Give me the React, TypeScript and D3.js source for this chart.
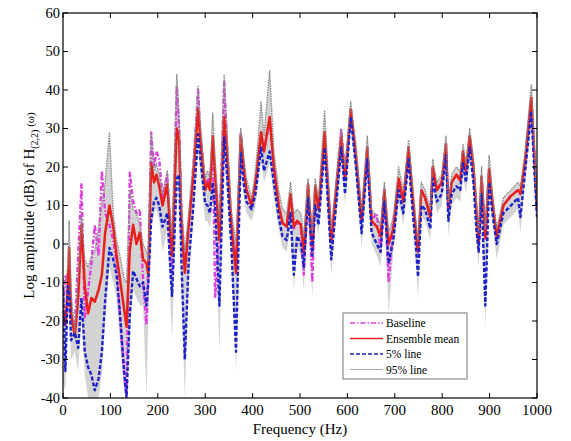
import React from 'react';
import * as d3 from 'd3';

// frequency grid (Hz) shared by all series
const freq = [
  0, 5, 10, 13, 17, 25, 32, 39, 46, 53,
  60, 67, 75, 82, 89, 98, 106, 113, 120, 129,
  134, 141, 148, 155, 162, 169, 176, 180, 186, 192,
  197, 203, 210, 220, 230, 240, 245, 250, 257, 265,
  275, 285, 290, 300, 305, 310, 316, 321, 330, 340,
  346, 355, 365, 375, 381, 387, 398, 406, 418, 424,
  436, 445, 455, 463, 472, 480, 487, 494, 502, 508,
  517, 526, 532, 539, 552, 566, 587, 595, 607, 618,
  630, 642, 651, 662, 670, 678, 687, 697, 708, 718,
  729, 738, 744, 749, 756, 764, 775, 780, 789, 799,
  808, 813, 820, 830, 838, 844, 850, 858, 866, 872,
  877, 883, 891, 899, 906, 915, 929, 945, 960, 965,
  975, 988, 995, 1000,
];

const meanDb = [
  -17, -21, -12, -1, -18, -24, -14, 5, -11, -18,
  -14, -15, -12, -8, 3, 10, 4.5, -3, -9, -17,
  -21.5, -1.5, 5, 0, 3, -4, -5, -8, 21, 16,
  18, 15, 10, 15.5, -3, 30, 27, 5, -7.5, 4.5,
  18, 35, 27, 14, 16, 14, 28, 18, 1, 33,
  24, 5, -7.5, 28, 20, 14, 10, 16, 29, 24,
  33, 20, 10, 5.5, 4.5, 13, 4.5, 6, 5, -2,
  15.5, -0.5, 15, 9, 29, 1, 28, 17, 35, 23,
  6, 25, 6, 4.5, 2, 14, 0, 4, 17, 11,
  25, 12, 4, -2, 14, 12, 7, 20, 14, 16,
  26, 9, 16, 18, 16.5, 24, 19, 28, 20, 9,
  0, 17.5, 1.5, 19.5, 11, 2, 10, 12.5, 14, 13,
  22, 38, 22, 9,
];

const baselineDb = [
  -16, -8, -10, -4, -20, -22, -3, 15.5, -19, -12,
  -5, 5, -3, 19, 8, 5, 1, -5, -18, -34,
  -39, 18.5, 11, 8, 9, -10, -21, -6, 29, 20,
  24, 22, 12, 18, -7.5, 41, 30, 8, -6, 5,
  20, 40, 28, 15, 17, 16, 27, -14, 3, 42,
  26, 6, -6, 29, 21, 14, 10, 16, 29, 24,
  32, 20, 10, 5.5, 4.5, 13, 4, 6, 4, -8,
  15, -10, 14, 9, 29, 0, 30, 17, 35, 23,
  6, 25, 6, 8, -2, 14, -10, 6, 17, 11,
  25, 12, 4, -2, 14, 12, 7, 20, 14, 16,
  26, 9, 16, 18, 16.5, 24, 19, 28, 20, 9,
  0, 17.5, 1.5, 19.5, 11, 2, 10, 12.5, 14, 13,
  22, 38, 22, 9,
];

const p5Db = [
  -11, -33, -11, -12, -25, -23, -27, -14, -28, -32,
  -34, -38, -35, -28, -14.5, -1, -4, -8, -18, -33,
  -40, -18, -7, -9, -11, -10, -16, -10, 6, 11,
  12, 10, 4.5, 8, -13.5, 17, 18, -5, -30, -5,
  10, 28.5, 22, 10.5, 10, 8, 16, 9.6, -16, 27.7,
  18, 0, -28, 24, 16, 11, 9, 13, 25, 19,
  24, 15.7, 7, 2, 1, 8, -8, 2, 0, -6,
  12, -3, 10, 5, 25, -4, 25, 13, 33, 20,
  2.8, 22, 3, 0, -2, 11, -5, 1, 14, 8,
  22, 8, 0, -8.5, 10, 9, 4, 17, 11, 13,
  23, 6, 13, 15, 14, 21, 16, 25, 16, 4,
  -2, 13, -16, 16, 8, 0, 8, 10, 12, 7,
  19, 34.5, 18, 7,
];

const p95Db = [
  -9, -10, -6, 6, -12, -23, -8, 7, -4, -6,
  -3, -2, 4.5, 10, 16, 29, 8, 1, -3, -9,
  -10, 14, 9, 8, 5, 0, -2, -4, 29, 19,
  21, 18, 13, 19, 2, 44, 33, 10, -2, 8,
  22, 41, 31, 17, 19, 17, 34, 22, 6, 44,
  29, 9, 0, 30, 23, 17, 12, 19, 37, 28,
  45, 24, 14, 9, 8, 16, 8, 9, 8, 2,
  17, 3, 17, 12, 34.5, 4, 30, 20, 37, 26,
  9, 28, 9, 7, 5, 16, 3, 7, 20, 14,
  27, 15, 7, 1, 16, 14, 9, 22, 16, 18,
  28, 11, 18, 20, 19, 26, 21, 30, 22, 11,
  3, 20, 4, 23, 13, 4, 12, 14, 16, 15,
  24, 41.5, 24, 11,
];

// lower edge of the grey spread of the ensemble
const bandLowDb = [
  -36, -38, -20, -16, -30, -28, -33, -20, -34, -40,
  -40, -40, -40, -34, -20, -6, -10, -14, -25, -38,
  -40, -25, -12, -14, -16, -16, -40, -20, 4, 8,
  9, 6, -2, 4, -25, 14, 14, -12, -40, -10,
  6, 25, 18, 6, 6, 4, 12, 5, -28, 24,
  14, -4, -33, 20, 13, 8, 6, 10, 22, 16,
  21, 12, 4, -1, -2, 4, -12, -1, -3, -12,
  9, -14, 7, 2, 22, -8, 22, 10, 31, 17,
  -1, 19, 0, -3, -6, 8, -18, -2, 11, 5,
  19, 5, -3, -14, 7, 6, 1, 14, 8, 10,
  20, 2, 10, 12, 11, 18, 13, 22, 13, 0,
  -6, 10, -22, 13, 5, -4, 5, 7, 9, 3,
  16, 31, 15, 4,
];

const xTicks = [0, 100, 200, 300, 400, 500, 600, 700, 800, 900, 1000];
const yTicks = [-40, -30, -20, -10, 0, 10, 20, 30, 40, 50, 60];
const legendLabels = ['Baseline', 'Ensemble mean', '5% line', '95% line'];

const FONT = 'Liberation Serif';
const left = 63, right = 537, top = 13, bottom = 398;

export default function App() {
  const x = d3.scaleLinear().domain([0, 1000]).range([left, right]);
  const y = d3.scaleLinear().domain([-40, 60]).range([bottom, top]);

  const band = d3.area<number>()
    .x((d, i) => x(freq[i]))
    .y0(d => y(d))
    .y1((d, i) => y(p95Db[i]));

  const mkLine = (vals: number[]) =>
    d3.line<number>().x((d, i) => x(freq[i])).y(d => y(d))(vals) || '';

  const series = [
    { vals: baselineDb, color: '#e03ce0', width: 2.4, dash: '5,2,1.5,2' },
    { vals: meanDb, color: '#e8201c', width: 2.5, dash: undefined },
    { vals: p5Db, color: '#1c22c8', width: 2.4, dash: '4,2' },
    { vals: p95Db, color: '#8a8a8a', width: 1.4, dash: '1.5,1' },
  ];

  return (
    <svg
      xmlns="http://www.w3.org/2000/svg"
      width="571"
      height="441"
      viewBox="0 0 571 441"
      style={{ position: 'absolute', left: 0, top: 0, background: '#fff' }}
    >
      <defs>
        <clipPath id="plotclip">
          <rect x={left} y={top} width={right - left} height={bottom - top} />
        </clipPath>
      </defs>

      <g clipPath="url(#plotclip)">
        <path d={band(bandLowDb) || ''} fill="#c4c4c4" fillOpacity={0.75} />
        {series.map((s, i) => (
          <path
            key={i}
            d={mkLine(s.vals)}
            fill="none"
            stroke={s.color}
            strokeWidth={s.width}
            strokeLinejoin="round"
            strokeDasharray={s.dash}
          />
        ))}
      </g>

      {/* inward ticks on all four sides */}
      {xTicks.map(t => (
        <g key={'x' + t}>
          <line x1={x(t)} x2={x(t)} y1={bottom} y2={bottom - 5} stroke="#000" />
          <line x1={x(t)} x2={x(t)} y1={top} y2={top + 5} stroke="#000" />
          <text x={x(t)} y={415} textAnchor="middle" fontFamily={FONT} fontSize={15}>{t}</text>
        </g>
      ))}
      {yTicks.map(t => (
        <g key={'y' + t}>
          <line x1={left} x2={left + 5} y1={y(t)} y2={y(t)} stroke="#000" />
          <line x1={right} x2={right - 5} y1={y(t)} y2={y(t)} stroke="#000" />
          <text x={60} y={y(t) + 4.5} textAnchor="end" fontFamily={FONT} fontSize={14.5}>{t}</text>
        </g>
      ))}
      <rect x={left} y={top} width={right - left} height={bottom - top}
        fill="none" stroke="#000" strokeWidth={1.2} />

      <text x={(left + right) / 2} y={434} textAnchor="middle" fontFamily={FONT} fontSize={15}>Frequency (Hz)</text>
      <text transform={`translate(34,${(top + bottom) / 2}) rotate(-90)`} textAnchor="middle" fontFamily={FONT} fontSize={15}>
        <tspan>Log amplitude (dB) of H</tspan>
        <tspan fontSize={10} dy={4}>(2,2)</tspan>
        <tspan fontSize={11} dy={-4}> (ω)</tspan>
      </text>

      <g transform="translate(343,313)">
        <rect width={124} height={66} fill="#fff" stroke="#777" />
        {legendLabels.map((lab, i) => {
          const s = series[i];
          const yy = 10 + i * 15.5;
          return (
            <g key={lab}>
              <line x1={7} x2={40} y1={yy} y2={yy}
                stroke={i === 3 ? '#aaa' : s.color}
                strokeWidth={i === 3 ? 1 : 1.6}
                strokeDasharray={i === 3 ? undefined : s.dash} />
              <text x={43} y={yy + 4} fontFamily={FONT} fontSize={11.5}>{lab}</text>
            </g>
          );
        })}
      </g>
    </svg>
  );
}
